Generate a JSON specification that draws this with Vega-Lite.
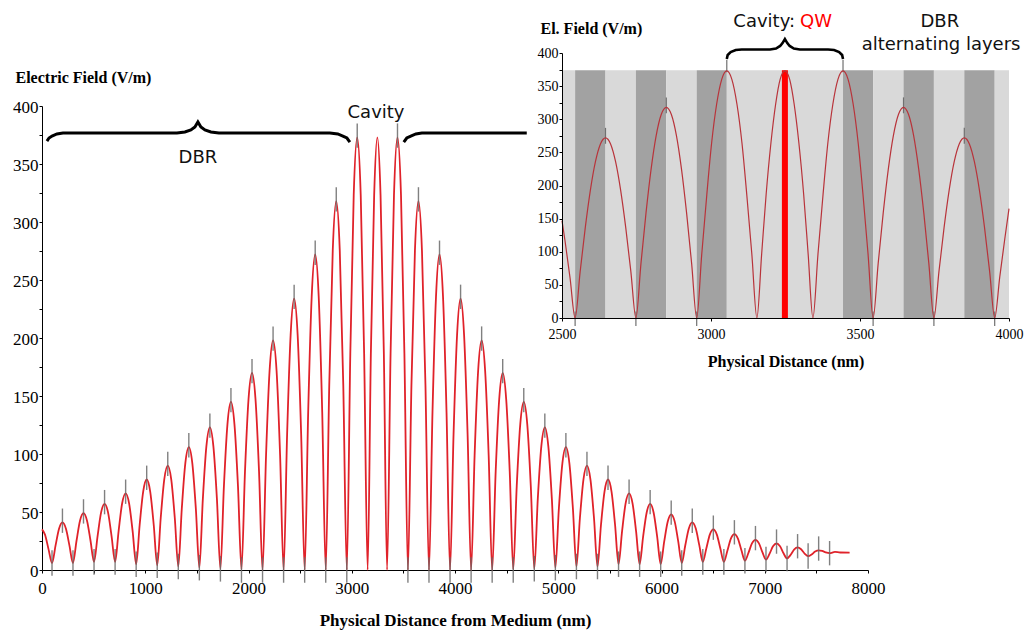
{
"$schema":"https://vega.github.io/schema/vega-lite/v6.json",
"width":826,"height":464,
"autosize":{"type":"none"},
"padding":{"left":42,"top":106,"right":156,"bottom":65},
"background":"white",
"config":{"view":{"stroke":null},"axis":{"labelFont":"Liberation Serif","titleFont":"Liberation Serif","labelColor":"#000","titleColor":"#000","domainColor":"#000","tickColor":"#000","grid":false,"labelFlush":false}},
"datasets":{
"main":[{"x":0,"y":35},{"x":29,"y":30.5},{"x":63,"y":18},{"x":97,"y":6},
{"x":131,"y":21},{"x":165,"y":35.6},{"x":198,"y":41},{"x":232,"y":35.6},{"x":266,"y":21},{"x":300,"y":6},
{"x":334,"y":25},{"x":368,"y":42.5},{"x":402,"y":49},{"x":436,"y":42.5},{"x":470,"y":25.2},{"x":504,"y":7},
{"x":538,"y":29},{"x":572,"y":49.5},{"x":606,"y":57},{"x":640,"y":49.5},{"x":674,"y":29},{"x":708,"y":7},
{"x":742,"y":33.6},{"x":776,"y":57.3},{"x":810,"y":66},{"x":844,"y":57.2},{"x":878,"y":33.3},{"x":912,"y":5},
{"x":946,"y":39},{"x":980,"y":67.6},{"x":1014,"y":78},{"x":1048,"y":67.6},{"x":1082,"y":39},{"x":1116,"y":4},
{"x":1150,"y":45},{"x":1184,"y":78},{"x":1218,"y":90},{"x":1252,"y":78},{"x":1286,"y":45},{"x":1320,"y":3},
{"x":1354,"y":53},{"x":1388,"y":92},{"x":1422,"y":106},{"x":1456,"y":92},{"x":1490,"y":53},{"x":1524,"y":2},
{"x":1558,"y":61.5},{"x":1592,"y":106.5},{"x":1626,"y":123},{"x":1660,"y":106.5},{"x":1694,"y":61.5},{"x":1728,"y":1},
{"x":1762,"y":72.5},{"x":1796,"y":125.6},{"x":1830,"y":145},{"x":1864,"y":125.6},{"x":1898,"y":72.5},{"x":1932,"y":0.5},
{"x":1966,"y":85},{"x":2000,"y":147},{"x":2034,"y":170},{"x":2068,"y":147},{"x":2102,"y":85},{"x":2136,"y":0},
{"x":2170,"y":99},{"x":2204,"y":171.5},{"x":2238,"y":198},{"x":2272,"y":171.5},{"x":2306,"y":99},{"x":2340,"y":0},
{"x":2374,"y":117},{"x":2408,"y":202.6},{"x":2442,"y":234},{"x":2476,"y":202.6},{"x":2510,"y":117},{"x":2544,"y":0},
{"x":2578,"y":136},{"x":2612,"y":235.6},{"x":2646,"y":272},{"x":2680,"y":235.6},{"x":2714,"y":136},{"x":2748,"y":0},
{"x":2782,"y":159},{"x":2816,"y":275.4},{"x":2850,"y":318},{"x":2884,"y":275.4},{"x":2918,"y":159},{"x":2952,"y":0},
{"x":2986,"y":186.5},{"x":3019,"y":323},{"x":3053,"y":373},{"x":3087,"y":323},{"x":3120,"y":186.5},{"x":3154,"y":0},
{"x":3185,"y":186.5},{"x":3217,"y":323},{"x":3248,"y":373},{"x":3279,"y":323},{"x":3311,"y":186.5},{"x":3342,"y":0},
{"x":3376,"y":186.5},{"x":3409,"y":323},{"x":3443,"y":373},{"x":3477,"y":323},{"x":3510,"y":186.5},{"x":3544,"y":0},
{"x":3578,"y":159},{"x":3612,"y":275.4},{"x":3646,"y":318},{"x":3680,"y":275.4},{"x":3714,"y":159},{"x":3748,"y":0},
{"x":3782,"y":136},{"x":3816,"y":235.6},{"x":3850,"y":272},{"x":3884,"y":235.6},{"x":3918,"y":136},{"x":3952,"y":0},
{"x":3986,"y":117},{"x":4020,"y":202.6},{"x":4054,"y":234},{"x":4088,"y":202.6},{"x":4122,"y":117},{"x":4156,"y":0},
{"x":4190,"y":99},{"x":4224,"y":171.5},{"x":4258,"y":198},{"x":4292,"y":171.5},{"x":4326,"y":99},{"x":4360,"y":0},
{"x":4394,"y":85},{"x":4428,"y":147},{"x":4462,"y":170},{"x":4496,"y":147},{"x":4530,"y":85},{"x":4564,"y":0.5},
{"x":4598,"y":72.5},{"x":4632,"y":125.6},{"x":4666,"y":145},{"x":4700,"y":125.6},{"x":4734,"y":72.5},{"x":4768,"y":1},
{"x":4802,"y":61.5},{"x":4836,"y":106.5},{"x":4870,"y":123},{"x":4904,"y":106.5},{"x":4938,"y":61.5},{"x":4972,"y":2},
{"x":5006,"y":53},{"x":5040,"y":92},{"x":5074,"y":106},{"x":5108,"y":92},{"x":5142,"y":53},{"x":5176,"y":3},
{"x":5210,"y":45},{"x":5244,"y":78},{"x":5278,"y":90},{"x":5312,"y":78},{"x":5346,"y":45},{"x":5380,"y":3},
{"x":5414,"y":39},{"x":5448,"y":67.6},{"x":5482,"y":78},{"x":5516,"y":67.6},{"x":5550,"y":39.2},{"x":5584,"y":5},
{"x":5618,"y":33.3},{"x":5652,"y":57.2},{"x":5686,"y":66},{"x":5720,"y":57.2},{"x":5754,"y":33.3},{"x":5788,"y":5},
{"x":5822,"y":28.8},{"x":5856,"y":49.4},{"x":5890,"y":57},{"x":5924,"y":49.4},{"x":5958,"y":28.8},{"x":5992,"y":5},
{"x":6026,"y":24.4},{"x":6060,"y":41.6},{"x":6094,"y":48},{"x":6128,"y":41.7},{"x":6162,"y":24.6},{"x":6196,"y":6},
{"x":6230,"y":21.1},{"x":6264,"y":35.6},{"x":6298,"y":41},{"x":6332,"y":35.7},{"x":6366,"y":21.4},{"x":6400,"y":7},
{"x":6434,"y":18.5},{"x":6468,"y":30.5},{"x":6502,"y":35},{"x":6536,"y":30.5},{"x":6570,"y":18.5},{"x":6604,"y":7},
{"x":6638,"y":16.6},{"x":6672,"y":27.1},{"x":6706,"y":31},{"x":6740,"y":27.1},{"x":6774,"y":17},{"x":6808,"y":8},
{"x":6842,"y":14.7},{"x":6876,"y":22.9},{"x":6910,"y":26},{"x":6944,"y":23},{"x":6978,"y":15.2},{"x":7012,"y":9},
{"x":7046,"y":13.9},{"x":7080,"y":20.4},{"x":7114,"y":23},{"x":7148,"y":20.5},{"x":7182,"y":14.4},{"x":7216,"y":10},
{"x":7250,"y":13},{"x":7284,"y":17.6},{"x":7318,"y":19.5},{"x":7352,"y":17.9},{"x":7386,"y":14.2},{"x":7420,"y":12},
{"x":7454,"y":13.4},{"x":7488,"y":15.9},{"x":7522,"y":17},{"x":7556,"y":16.4},{"x":7590,"y":15.2},{"x":7628,"y":14.5},
{"x":7680,"y":15.6},{"x":7730,"y":15.1},{"x":7822,"y":15}],
"marks":[{"x":97,"lo":-5,"hi":17},{"x":300,"lo":-5,"hi":17},{"x":504,"lo":-4,"hi":18},{"x":708,"lo":-4,"hi":18},{"x":912,"lo":-6,"hi":16},{"x":1116,"lo":-7,"hi":15},{"x":1320,"lo":-8,"hi":14},{"x":1524,"lo":-9,"hi":13},{"x":1728,"lo":-10,"hi":12},{"x":1932,"lo":-11,"hi":11},{"x":2136,"lo":-11,"hi":11},{"x":2340,"lo":-11,"hi":11},{"x":2544,"lo":-11,"hi":11},{"x":2748,"lo":-11,"hi":11},{"x":2952,"lo":-11,"hi":11},{"x":3544,"lo":-11,"hi":11},{"x":3748,"lo":-11,"hi":11},{"x":3952,"lo":-11,"hi":11},{"x":4156,"lo":-11,"hi":11},{"x":4360,"lo":-11,"hi":11},{"x":4564,"lo":-11,"hi":11},{"x":4768,"lo":-10,"hi":12},{"x":4972,"lo":-9,"hi":13},{"x":5176,"lo":-8,"hi":14},{"x":5380,"lo":-8,"hi":14},{"x":5584,"lo":-6,"hi":16},{"x":5788,"lo":-6,"hi":16},{"x":5992,"lo":-6,"hi":16},{"x":6196,"lo":-5,"hi":17},{"x":6400,"lo":-4,"hi":18},{"x":6604,"lo":-4,"hi":18},{"x":6808,"lo":-3,"hi":19},{"x":7012,"lo":-2,"hi":20},{"x":7216,"lo":-1,"hi":21},{"x":7420,"lo":1,"hi":23},{"x":7628,"lo":4,"hi":25},
{"x":198,"lo":32,"hi":53},{"x":402,"lo":40,"hi":61},{"x":606,"lo":48,"hi":69},{"x":810,"lo":57,"hi":78},{"x":1014,"lo":69,"hi":90},{"x":1218,"lo":81,"hi":102},{"x":1422,"lo":97,"hi":118},{"x":1626,"lo":114,"hi":135},{"x":1830,"lo":136,"hi":157},{"x":2034,"lo":161,"hi":182},{"x":2238,"lo":189,"hi":210},{"x":2442,"lo":225,"hi":246},{"x":2646,"lo":263,"hi":284},{"x":2850,"lo":309,"hi":330},{"x":3053,"lo":364,"hi":385},{"x":3443,"lo":364,"hi":385},{"x":3646,"lo":309,"hi":330},{"x":3850,"lo":263,"hi":284},{"x":4054,"lo":225,"hi":246},{"x":4258,"lo":189,"hi":210},{"x":4462,"lo":161,"hi":182},{"x":4666,"lo":136,"hi":157},{"x":4870,"lo":114,"hi":135},{"x":5074,"lo":97,"hi":118},{"x":5278,"lo":81,"hi":102},{"x":5482,"lo":69,"hi":90},{"x":5686,"lo":57,"hi":78},{"x":5890,"lo":48,"hi":69},{"x":6094,"lo":39,"hi":60},{"x":6298,"lo":32,"hi":53},{"x":6502,"lo":26,"hi":47},{"x":6706,"lo":22,"hi":43},{"x":6910,"lo":17,"hi":38},{"x":7114,"lo":14,"hi":35},{"x":7318,"lo":10,"hi":31},{"x":7522,"lo":8,"hi":29}],
"braces":[{"g":"L","x":48,"y":369.8},{"g":"L","x":68,"y":372.4},{"g":"L","x":97,"y":374.1},{"g":"L","x":145,"y":375.9},{"g":"L","x":203,"y":376.7},{"g":"L","x":1307,"y":376.7},{"g":"L","x":1384,"y":377.6},{"g":"L","x":1442,"y":379.3},{"g":"L","x":1481,"y":381.9},{"g":"L","x":1510,"y":386.2},{"g":"L","x":1539,"y":381.9},{"g":"L","x":1578,"y":379.3},{"g":"L","x":1636,"y":377.6},{"g":"L","x":1713,"y":376.7},{"g":"L","x":2788,"y":376.7},{"g":"L","x":2865,"y":375.9},{"g":"L","x":2914,"y":374.1},{"g":"L","x":2953,"y":372.4},{"g":"L","x":2982,"y":368.9},
{"g":"R","x":3504,"y":368.9},{"g":"R","x":3533,"y":372.4},{"g":"R","x":3572,"y":374.1},{"g":"R","x":3621,"y":375.9},{"g":"R","x":3679,"y":376.7},{"g":"R","x":4695,"y":376.7}],
"labels":[{"x":1510,"y":355,"t":"DBR"},{"x":3235,"y":394,"t":"Cavity"}],
"inset":[{"x":2500,"y":147},{"x":2510,"y":117},{"x":2527,"y":60.6},{"x":2544,"y":0},
{"x":2561,"y":70.4},{"x":2578,"y":136},{"x":2595,"y":192.3},{"x":2612,"y":235.6},{"x":2629,"y":262.8},{"x":2646,"y":272},{"x":2663,"y":262.8},{"x":2680,"y":235.6},{"x":2697,"y":192.3},{"x":2714,"y":136},{"x":2731,"y":70.4},{"x":2748,"y":0},
{"x":2765,"y":82.4},{"x":2782,"y":159},{"x":2799,"y":224.8},{"x":2816,"y":275.4},{"x":2833,"y":307.2},{"x":2850,"y":318},{"x":2867,"y":307.2},{"x":2884,"y":275.4},{"x":2901,"y":224.8},{"x":2918,"y":159},{"x":2935,"y":82.4},{"x":2952,"y":0},
{"x":2969,"y":96.6},{"x":2986,"y":186.5},{"x":3002,"y":263.7},{"x":3019,"y":323},{"x":3036,"y":360.3},{"x":3053,"y":373},{"x":3070,"y":360.3},{"x":3087,"y":323},{"x":3104,"y":263.7},{"x":3120,"y":186.5},{"x":3137,"y":96.6},{"x":3154,"y":0},
{"x":3170,"y":96.6},{"x":3185,"y":186.5},{"x":3201,"y":263.7},{"x":3217,"y":323},{"x":3232,"y":360.3},{"x":3248,"y":373},{"x":3264,"y":360.3},{"x":3279,"y":323},{"x":3295,"y":263.7},{"x":3311,"y":186.5},{"x":3326,"y":96.6},{"x":3342,"y":0},
{"x":3359,"y":96.6},{"x":3376,"y":186.5},{"x":3392,"y":263.7},{"x":3409,"y":323},{"x":3426,"y":360.3},{"x":3443,"y":373},{"x":3460,"y":360.3},{"x":3477,"y":323},{"x":3494,"y":263.7},{"x":3510,"y":186.5},{"x":3527,"y":96.6},{"x":3544,"y":0},
{"x":3561,"y":82.4},{"x":3578,"y":159},{"x":3595,"y":224.8},{"x":3612,"y":275.4},{"x":3629,"y":307.2},{"x":3646,"y":318},{"x":3663,"y":307.2},{"x":3680,"y":275.4},{"x":3697,"y":224.8},{"x":3714,"y":159},{"x":3731,"y":82.4},{"x":3748,"y":0},
{"x":3765,"y":70.4},{"x":3782,"y":136},{"x":3799,"y":192.3},{"x":3816,"y":235.6},{"x":3833,"y":262.8},{"x":3850,"y":272},{"x":3867,"y":262.8},{"x":3884,"y":235.6},{"x":3901,"y":192.3},{"x":3918,"y":136},{"x":3935,"y":70.4},{"x":3952,"y":0},
{"x":3969,"y":62},{"x":3986,"y":120},{"x":4000,"y":165}],
"bands":[{"a":2500,"b":2544,"k":"light","lo":0,"hi":374},{"a":2544,"b":2646,"k":"dark","lo":0,"hi":374},{"a":2646,"b":2748,"k":"light","lo":0,"hi":374},{"a":2748,"b":2850,"k":"dark","lo":0,"hi":374},{"a":2850,"b":2952,"k":"light","lo":0,"hi":374},{"a":2952,"b":3053,"k":"dark","lo":0,"hi":374},{"a":3053,"b":3443,"k":"light","lo":0,"hi":374},{"a":3443,"b":3544,"k":"dark","lo":0,"hi":374},{"a":3544,"b":3646,"k":"light","lo":0,"hi":374},{"a":3646,"b":3748,"k":"dark","lo":0,"hi":374},{"a":3748,"b":3850,"k":"light","lo":0,"hi":374},{"a":3850,"b":3952,"k":"dark","lo":0,"hi":374},{"a":3952,"b":4000,"k":"light","lo":0,"hi":374}],
"imarks":[{"x":2646,"lo":263,"hi":287},{"x":2850,"lo":309,"hi":333},{"x":3053,"lo":371,"hi":390},{"x":3443,"lo":371,"hi":390},{"x":3646,"lo":309,"hi":333},{"x":3850,"lo":263,"hi":287},{"x":2544,"lo":-12,"hi":10},{"x":2748,"lo":-12,"hi":10},{"x":2952,"lo":-12,"hi":10},{"x":3544,"lo":-12,"hi":10},{"x":3748,"lo":-12,"hi":10},{"x":3952,"lo":-12,"hi":10}],
"qw":[{"x":3248,"lo":0,"hi":374}],
"ibrace":[{"x":3053,"y":391},{"x":3056,"y":397},{"x":3066,"y":401.5},{"x":3083,"y":404.5},{"x":3103,"y":405.3},{"x":3198,"y":405.3},{"x":3218,"y":406.8},{"x":3232,"y":410.6},{"x":3240,"y":415},{"x":3248,"y":421},{"x":3256,"y":415},{"x":3264,"y":410.6},{"x":3278,"y":406.8},{"x":3298,"y":405.3},{"x":3393,"y":405.3},{"x":3413,"y":404.5},{"x":3430,"y":401.5},{"x":3440,"y":397},{"x":3443,"y":391}],
"ilabels":[{"x":3768,"y":447,"t":"DBR"},{"x":3772,"y":412,"t":"alternating layers"}],
"icav":[{"x":3282,"y":447,"t":"Cavity:"}],
"iqw":[{"x":3299,"y":447,"t":"QW"}]
},
"layer":[
{"data":{"name":"main"},"mark":{"type":"line","interpolate":"monotone","color":"#e0222a","strokeWidth":1.8},
"encoding":{"x":{"field":"x","type":"quantitative","scale":{"domain":[0,8000],"nice":false,"zero":false,"range":[0,826]},
"axis":{"orient":"bottom","values":[0,500,1000,1500,2000,2500,3000,3500,4000,4500,5000,5500,6000,6500,7000,7500,8000],"format":"d","labelExpr":"datum.value % 1000 === 0 ? datum.label : ''","tickSize":3,"labelFontSize":17,"labelPadding":7,"title":"Physical Distance from Medium (nm)","titleFontSize":17,"titleFontWeight":"bold","titlePadding":16}},
"y":{"field":"y","type":"quantitative","scale":{"domain":[0,400],"nice":false,"range":[464,0]},
"axis":{"orient":"left","values":[0,25,50,75,100,125,150,175,200,225,250,275,300,325,350,375,400],"format":"d","labelExpr":"datum.value % 50 === 0 ? datum.label : ''","tickSize":3,"labelFontSize":17,"labelPadding":1,"labelOffset":1,"title":"Electric Field (V/m)","titleAngle":0,"titleAlign":"left","titleBaseline":"middle","titleX":-27,"titleY":-29,"titleFontSize":16,"titleFontWeight":"bold"}}}},
{"data":{"name":"marks"},"mark":{"type":"rule","color":"#6a6a6a","strokeWidth":1.4,"opacity":0.85},
"encoding":{"x":{"field":"x","type":"quantitative","scale":{"domain":[0,8000],"nice":false,"zero":false,"range":[0,826]},"axis":null},
"y":{"field":"lo","type":"quantitative","scale":{"domain":[0,400],"nice":false,"range":[464,0]},"axis":null},"y2":{"field":"hi"}}},
{"data":{"name":"braces"},"mark":{"type":"line","color":"#000","strokeWidth":3},
"encoding":{"x":{"field":"x","type":"quantitative","scale":{"domain":[0,8000],"nice":false,"zero":false,"range":[0,826]},"axis":null},
"y":{"field":"y","type":"quantitative","scale":{"domain":[0,400],"nice":false,"range":[464,0]},"axis":null},"detail":{"field":"g","type":"nominal"}}},
{"data":{"name":"labels"},"mark":{"type":"text","font":"DejaVu Sans","fontSize":18,"color":"#111","align":"center","baseline":"middle"},
"encoding":{"x":{"field":"x","type":"quantitative","scale":{"domain":[0,8000],"nice":false,"zero":false,"range":[0,826]},"axis":null},
"y":{"field":"y","type":"quantitative","scale":{"domain":[0,400],"nice":false,"range":[464,0]},"axis":null},"text":{"field":"t","type":"nominal"}}},
{"data":{"name":"bands"},"mark":{"type":"rect"},
"encoding":{"x":{"field":"a","type":"quantitative","scale":{"domain":[2500,4000],"nice":false,"zero":false,"range":[520,967]},"axis":null},"x2":{"field":"b"},
"y":{"field":"lo","type":"quantitative","scale":{"domain":[0,400],"nice":false,"range":[212,-53]},"axis":null},"y2":{"field":"hi"},
"color":{"field":"k","type":"nominal","scale":{"domain":["dark","light"],"range":["#a2a2a2","#d9d9d9"]},"legend":null}}},
{"data":{"name":"qw"},"mark":{"type":"rule","color":"#ff0000","strokeWidth":6},
"encoding":{"x":{"field":"x","type":"quantitative","scale":{"domain":[2500,4000],"nice":false,"zero":false,"range":[520,967]},"axis":null},
"y":{"field":"lo","type":"quantitative","scale":{"domain":[0,400],"nice":false,"range":[212,-53]},"axis":null},"y2":{"field":"hi"}}},
{"data":{"name":"imarks"},"mark":{"type":"rule","color":"#707070","strokeWidth":1.2},
"encoding":{"x":{"field":"x","type":"quantitative","scale":{"domain":[2500,4000],"nice":false,"zero":false,"range":[520,967]},"axis":null},
"y":{"field":"lo","type":"quantitative","scale":{"domain":[0,400],"nice":false,"range":[212,-53]},"axis":null},"y2":{"field":"hi"}}},
{"data":{"name":"inset"},"mark":{"type":"line","interpolate":"monotone","color":"#b8333a","strokeWidth":1.2},
"encoding":{"x":{"field":"x","type":"quantitative","scale":{"domain":[2500,4000],"nice":false,"zero":false,"range":[520,967]},
"axis":{"orient":"bottom","offset":-252,"values":[2500,3000,3500,4000],"format":"d","tickSize":3,"labelFontSize":14,"labelPadding":6,"title":"Physical Distance (nm)","titleFontSize":16,"titleFontWeight":"bold","titlePadding":12,"zindex":1}},
"y":{"field":"y","type":"quantitative","scale":{"domain":[0,400],"nice":false,"range":[212,-53]},
"axis":{"orient":"left","offset":-520,"values":[0,25,50,75,100,125,150,175,200,225,250,275,300,325,350,375,400],"format":"d","labelExpr":"datum.value % 50 === 0 ? datum.label : ''","tickSize":3,"labelFontSize":14,"labelPadding":1,"title":"El. Field (V/m)","titleAngle":0,"titleAlign":"left","titleBaseline":"middle","titleX":-22,"titleY":-78,"titleFontSize":16,"titleFontWeight":"bold","zindex":1}}}},
{"data":{"name":"ibrace"},"mark":{"type":"line","color":"#000","strokeWidth":2.6},
"encoding":{"x":{"field":"x","type":"quantitative","scale":{"domain":[2500,4000],"nice":false,"zero":false,"range":[520,967]},"axis":null},
"y":{"field":"y","type":"quantitative","scale":{"domain":[0,400],"nice":false,"range":[212,-53]},"axis":null}}},
{"data":{"name":"ilabels"},"mark":{"type":"text","font":"DejaVu Sans","fontSize":18,"color":"#111","align":"center","baseline":"middle"},
"encoding":{"x":{"field":"x","type":"quantitative","scale":{"domain":[2500,4000],"nice":false,"zero":false,"range":[520,967]},"axis":null},
"y":{"field":"y","type":"quantitative","scale":{"domain":[0,400],"nice":false,"range":[212,-53]},"axis":null},"text":{"field":"t","type":"nominal"}}},
{"data":{"name":"icav"},"mark":{"type":"text","font":"DejaVu Sans","fontSize":18,"color":"#111","align":"right","baseline":"middle"},
"encoding":{"x":{"field":"x","type":"quantitative","scale":{"domain":[2500,4000],"nice":false,"zero":false,"range":[520,967]},"axis":null},
"y":{"field":"y","type":"quantitative","scale":{"domain":[0,400],"nice":false,"range":[212,-53]},"axis":null},"text":{"field":"t","type":"nominal"}}},
{"data":{"name":"iqw"},"mark":{"type":"text","font":"DejaVu Sans","fontSize":18,"color":"#ff0000","align":"left","baseline":"middle"},
"encoding":{"x":{"field":"x","type":"quantitative","scale":{"domain":[2500,4000],"nice":false,"zero":false,"range":[520,967]},"axis":null},
"y":{"field":"y","type":"quantitative","scale":{"domain":[0,400],"nice":false,"range":[212,-53]},"axis":null},"text":{"field":"t","type":"nominal"}}}
],
"resolve":{"scale":{"x":"independent","y":"independent"},"axis":{"x":"independent","y":"independent"}}
}
